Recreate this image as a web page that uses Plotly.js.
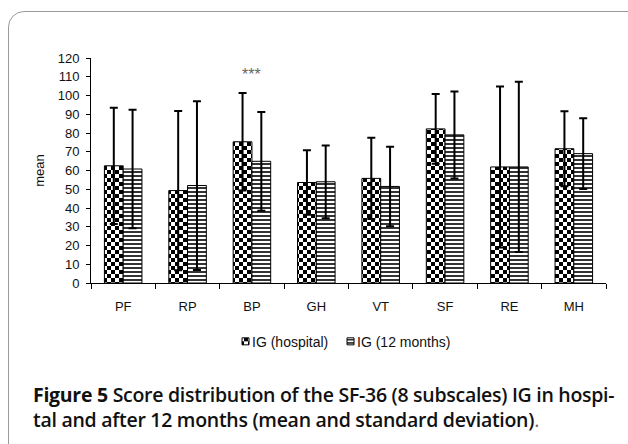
<!DOCTYPE html>
<html>
<head>
<meta charset="utf-8">
<script src="https://cdn.plot.ly/plotly-3.0.1.min.js"></script>
<style>
  html, body { margin: 0; padding: 0; background: #fff; }
  #wrap { position: relative; width: 628px; height: 444px; overflow: hidden; background: #fff; }
  #frame { position: absolute; left: 8px; top: 11px; width: 640px; height: 460px;
           border: 1px solid #9a9a9a; border-radius: 16px; box-sizing: border-box; }
  #chart { position: absolute; left: 0; top: 0; width: 628px; height: 444px; }
  #caption { position: absolute; left: 33px; top: 382px; font-family: "Open Sans", sans-serif;
             font-size: 19.5px; line-height: 25px; color: #111; font-weight: 600; white-space: nowrap;
             letter-spacing: -0.28px; }
  #caption b { font-weight: 700; }
  #caption .p { font-weight: 400; color: #666; }
</style>
</head>
<body>
<div id="wrap">
  <div id="frame"></div>
  <div id="chart"></div>
  <div id="caption"><b>Figure 5</b> Score distribution of the SF-36 (8 subscales) IG in hospi-<br>tal and after 12 months (mean and standard deviation)<span class="p">.</span></div>
</div>
<script>
const categories = ["PF", "RP", "BP", "GH", "VT", "SF", "RE", "MH"];
const hospitalMean = [62.5, 49.3, 75.3, 53.6, 55.8, 82.2, 61.9, 71.6];
const hospitalSD   = [31.0, 42.5, 26.0, 17.2, 21.7, 18.6, 42.9, 20.0];
const monthsMean   = [60.8, 52.0, 64.9, 54.0, 51.5, 79.0, 61.9, 69.0];
const monthsSD     = [31.6, 45.0, 26.3, 19.4, 21.2, 23.2, 45.4, 18.9];
const seriesNames  = ["IG (hospital)", "IG (12 months)"];
const yTicks       = [0, 10, 20, 30, 40, 50, 60, 70, 80, 90, 100, 110, 120];
const significance = {category: "BP", label: "***", y: 111};

const axisFont = {family: "Liberation Sans, Arial, sans-serif", size: 13, color: "#111"};

const traces = [
  {
    type: "bar", name: seriesNames[0], x: categories, y: hospitalMean,
    marker: {color: "#ffffff", line: {color: "#000", width: 1},
             pattern: {shape: ".", fgcolor: "#000", bgcolor: "#fff", size: 8, solidity: 0.5}},
    error_y: {type: "data", array: hospitalSD, visible: true, color: "#000", thickness: 2, width: 4}
  },
  {
    type: "bar", name: seriesNames[1], x: categories, y: monthsMean,
    marker: {color: "#ffffff", line: {color: "#000", width: 1},
             pattern: {shape: "-", fgcolor: "#000", bgcolor: "#fff", size: 4, solidity: 0.4}},
    error_y: {type: "data", array: monthsSD, visible: true, color: "#000", thickness: 2, width: 4}
  }
];

const layout = {
  width: 628, height: 444,
  margin: {l: 91, r: 22, t: 57.5, b: 161.3, pad: 0},
  paper_bgcolor: "rgba(0,0,0,0)", plot_bgcolor: "rgba(0,0,0,0)",
  barmode: "group", bargap: 0.417, bargroupgap: 0,
  showlegend: true,
  legend: {orientation: "h", x: 0.235, xanchor: "left", y: -0.19, yanchor: "top",
           font: {family: "Liberation Sans, Arial, sans-serif", size: 14, color: "#111"},
           itemwidth: 30, entrywidth: 60, entrywidthmode: "pixels",
           tracegroupgap: 0, bgcolor: "rgba(0,0,0,0)"},
  xaxis: {type: "category", showline: true, linecolor: "#000", linewidth: 1,
          ticks: "outside", tickson: "boundaries", ticklen: 5, tickcolor: "#000",
          tickfont: axisFont, ticklabelstandoff: 11, showgrid: false, zeroline: false, fixedrange: true},
  yaxis: {range: [0, 120], tickvals: yTicks, ticktext: yTicks.map(String),
          showline: true, linecolor: "#000", linewidth: 1,
          ticks: "outside", ticklen: 4, tickcolor: "#000", tickfont: axisFont,
          ticklabelstandoff: 4,
          showgrid: false, zeroline: false, automargin: false,
          title: {text: "mean", font: axisFont, standoff: 10}},
  annotations: [{x: significance.category, y: significance.y, xref: "x", yref: "y",
                 text: significance.label, showarrow: false,
                 font: {family: "Liberation Sans, Arial, sans-serif", size: 16, color: "#666"}}]
};

function restyleMarks() {
  const gd = document.getElementById("chart");
  const ns = "http://www.w3.org/2000/svg";
  gd.querySelectorAll("pattern").forEach(p => {
    if (!p.querySelector("circle")) return;
    while (p.firstChild) p.removeChild(p.firstChild);
    p.setAttribute("width", 8); p.setAttribute("height", 8);
    p.setAttribute("patternUnits", "userSpaceOnUse");
    p.removeAttribute("patternTransform");
    const mk = (x, y, w, h, c) => { const r = document.createElementNS(ns, "rect");
      r.setAttribute("x", x); r.setAttribute("y", y); r.setAttribute("width", w);
      r.setAttribute("height", h); r.setAttribute("fill", c); p.appendChild(r); };
    mk(0, 0, 8, 8, "#fff"); mk(0, 0, 4, 4, "#000"); mk(4, 4, 4, 4, "#000");
  });
  // smaller legend swatches placed next to their text, as in the original
  gd.querySelectorAll(".legend .legendpoints path").forEach(pth => {
    pth.setAttribute("d", "M17,3.5H10V-3.5H17Z");
  });
  // compact legend entries: let the last label run past the computed legend box
  gd.querySelectorAll(".legend .scrollbox, .legend").forEach(el => el.removeAttribute("clip-path"));
}

Plotly.newPlot("chart", traces, layout, {displayModeBar: false, staticPlot: true}).then(gd => {
  restyleMarks();
  gd.on("plotly_afterplot", restyleMarks);
});
</script>
</body>
</html>
